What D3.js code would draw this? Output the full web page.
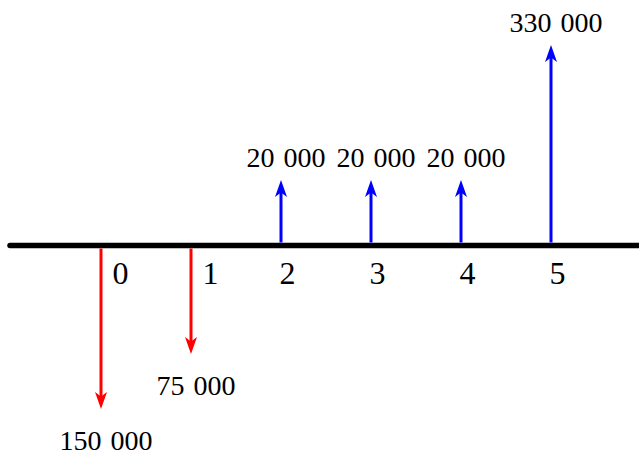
<!DOCTYPE html>
<html>
<head>
<meta charset="utf-8">
<script src="https://cdn.jsdelivr.net/npm/d3@7"></script>
<style>
  body { margin: 0; background: #fff; }
  text { font-family: "Liberation Serif", "DejaVu Serif", serif; fill: #000; }
</style>
</head>
<body>
<div id="chart"></div>
<script>
// cash flow timeline: years, flows (negative = outflow), labels
const years = [0, 1, 2, 3, 4, 5];
const flows = [-150000, -75000, 20000, 20000, 20000, 330000];
const flowLabels = ["150 000", "75 000", "20 000", "20 000", "20 000", "330 000"];
const yearLabels = ["0", "1", "2", "3", "4", "5"];

const width = 639, height = 456;
const axisY = 245.5;

const svg = d3.select("#chart").append("svg")
  .attr("width", width)
  .attr("height", height);

const x = d3.scaleLinear().domain([0, 5]).range([101, 551]);

// arrow length per amount (drawing is not to scale, so piecewise)
const len = d3.scaleLinear()
  .domain([20000, 75000, 150000, 330000])
  .range([65.5, 108.5, 163.5, 200.5]);

const data = years.map((yr, i) => ({ year: yr, flow: flows[i], label: flowLabels[i], yearLabel: yearLabels[i] }));

/** time axis */
svg.append("line")
  .attr("x1", 10)
  .attr("x2", width + 10)
  .attr("y1", axisY)
  .attr("y2", axisY)
  .attr("stroke", "#000")
  .attr("stroke-width", 5.5)
  .attr("stroke-linecap", "round");

const arrows = svg.append("g").attr("class", "arrows")
  .selectAll("g")
  .data(data)
  .enter()
  .append("g")
  .attr("transform", d => "translate(" + x(d.year) + "," + axisY + ")");

arrows.each(function(d) {
  const g = d3.select(this);
  const dir = d.flow < 0 ? 1 : -1;
  const L = len(Math.abs(d.flow));
  const col = d.flow < 0 ? "#ff0000" : "#0000ff";

  g.append("line")
    .attr("x1", 0).attr("x2", 0)
    .attr("y1", dir * 3)
    .attr("y2", dir * (L - 12))
    .attr("stroke", col)
    .attr("stroke-width", 3);

  // arrow head, drawn pointing up then flipped for outflows
  g.append("path")
    .attr("d", "M0,0 L6,17 L0,12.5 L-6,17 Z")
    .attr("fill", col)
    .attr("transform", "translate(0," + (dir * L) + ")" + (dir > 0 ? " rotate(180)" : ""));

  g.append("text")
    .attr("x", 5)
    .attr("y", dir > 0 ? L + 41 : -L - 13)
    .attr("text-anchor", "middle")
    .attr("font-size", 28)
    .attr("word-spacing", 2)
    .text(d.label);

  g.append("text")
    .attr("x", d.flow < 0 ? 19.5 : 6.5)
    .attr("y", 38)
    .attr("text-anchor", "middle")
    .attr("font-size", 32)
    .text(d.yearLabel);
});
</script>
</body>
</html>
